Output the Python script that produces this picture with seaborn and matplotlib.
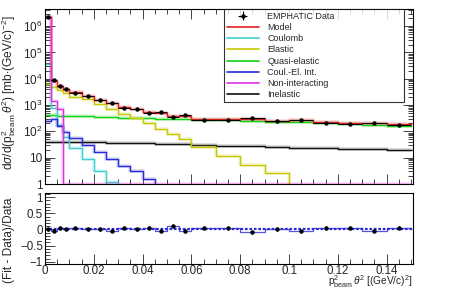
import numpy as np
import matplotlib
matplotlib.use('Agg')
import matplotlib.pyplot as plt
from matplotlib.lines import Line2D
from matplotlib.ticker import MultipleLocator, LogLocator, FuncFormatter, NullFormatter
import seaborn as sns

# binning and values
bin_edges = [0, 0.0025, 0.005, 0.0075, 0.01, 0.015, 0.02, 0.025, 0.03, 0.035, 0.04,
             0.045, 0.05, 0.055, 0.06, 0.07, 0.08, 0.09, 0.1, 0.11, 0.12, 0.13, 0.14, 0.15]

data_vals = [2.3e6, 8900, 5100, 3950, 3000, 2200, 1560, 1220, 780, 690, 505, 555,
             355, 420, 278, 276, 325, 252, 278, 210, 195, 213, 181]
model_vals = [2.3e6, 8500, 5400, 4000, 3100, 2200, 1560, 1170, 830, 690, 560, 520,
              400, 400, 295, 290, 295, 255, 262, 222, 205, 205, 190]
coulomb_vals = [3.5e4, 800, 170, 63, 24, 8.7, 3.1, 1.15, 0.3, 0.3, 0.3, 0.3,
                0.3, 0.3, 0.3, 0.3, 0.3, 0.3, 0.3, 0.3, 0.3, 0.3, 0.3]
elastic_vals = [6300, 4800, 3700, 2800, 2000, 1680, 1100, 690, 460, 315, 200, 120,
                80, 50, 26, 12, 5.3, 2.6, 0.3, 0.3, 0.3, 0.3, 0.3]
quasi_vals = [410, 405, 400, 395, 385, 370, 355, 345, 330, 320, 310, 300,
              295, 290, 280, 265, 250, 235, 220, 205, 195, 180, 165]
interf_vals = [250, 300, 165, 97, 58, 30, 16, 9, 5, 3.2, 1.55, 0.3,
               0.3, 0.3, 0.3, 0.3, 0.3, 0.3, 0.3, 0.3, 0.3, 0.3, 0.3]
nonint_vals = [2.3e6, 1480, 710, 1, 1, 1, 1, 1, 1, 1, 1, 1,
               1, 1, 1, 1, 1, 1, 1, 1, 1, 1, 1]
inelastic_vals = [40, 40, 40, 39, 39, 38, 38, 37, 37, 36, 35, 34,
                  33, 32, 31, 29, 27, 26, 24, 23, 22, 21, 20]
resid_vals = [0.0, -0.04, 0.06, 0.01, 0.03, 0.0, 0.0, -0.04, 0.06, 0.0, 0.06, -0.04,
              0.12, -0.05, 0.06, 0.05, -0.09, 0.01, -0.06, 0.06, 0.05, -0.04, 0.05]

data_rel_err = 0.06
resid_err = 0.05

series = [
    ('Model', model_vals, '#e02020'),
    ('Coulomb', coulomb_vals, '#40d0d0'),
    ('Elastic', elastic_vals, '#c8c800'),
    ('Quasi-elastic', quasi_vals, '#10d010'),
    ('Coul.-El. Int.', interf_vals, '#2a2ad8'),
    ('Non-interacting', nonint_vals, '#e030e0'),
    ('Inelastic', inelastic_vals, '#101010'),
]

sns.set_theme(style='ticks')
plt.rcParams['font.family'] = ['Liberation Sans', 'DejaVu Sans']
plt.rcParams['mathtext.fontset'] = 'custom'
plt.rcParams['mathtext.rm'] = 'Liberation Sans'
plt.rcParams['mathtext.it'] = 'Liberation Sans:italic'
plt.rcParams['axes.linewidth'] = 0.8
plt.rcParams['axes.edgecolor'] = 'black'

edges = np.array(bin_edges)
centers = (edges[:-1] + edges[1:]) / 2
half = (edges[1:] - edges[:-1]) / 2

fig = plt.figure(figsize=(4.49, 2.90), dpi=100)
ax = fig.add_axes([0.1002, 0.3655, 0.8196, 0.6035])
ax2 = fig.add_axes([0.1002, 0.0897, 0.8196, 0.2448])

# upper panel: components drawn as step histograms
draw_order = [3, 6, 2, 1, 4, 0, 5]
for i in draw_order:
    name, vals, col = series[i]
    sns.histplot(x=centers, weights=vals, bins=bin_edges, element='step', fill=False,
                 color=col, lw=2.6, alpha=0.18, ax=ax)
    sns.histplot(x=centers, weights=vals, bins=bin_edges, element='step', fill=False,
                 color=col, lw=1.0, ax=ax)

data_err = ax.errorbar(centers, data_vals, xerr=half, yerr=np.array(data_vals) * data_rel_err,
                       fmt='o', ms=2.2, color='black', lw=0.8, capsize=0, zorder=5)

ax.set_yscale('log')
ax.set_ylim(1, 4.5e6)
ax.set_xlim(0, 0.1508)
ax.set_ylabel('')
ax.set_xlabel('')
ax.xaxis.set_major_locator(MultipleLocator(0.02))
ax.xaxis.set_minor_locator(MultipleLocator(0.005))
ax.xaxis.set_major_formatter(NullFormatter())
ax.yaxis.set_major_locator(LogLocator(base=10, numticks=10))
ax.yaxis.set_minor_locator(LogLocator(base=10, subs=np.arange(2, 10), numticks=20))
ax.yaxis.set_minor_formatter(NullFormatter())


def log_fmt(v, pos):
    e = int(round(np.log10(v)))
    if e == 0:
        return '1'
    if e == 1:
        return '10'
    return r'$10^{%d}$' % e


ax.yaxis.set_major_formatter(FuncFormatter(log_fmt))
ax.tick_params(which='both', direction='in', top=True, right=True, labelsize=8.5, width=0.6, pad=2)
ax.tick_params(which='major', length=7)
ax.tick_params(which='minor', length=3.5)

handles = [data_err] + [Line2D([], [], color=c, lw=1.2) for _, _, c in series]
labels = ['EMPHATIC Data'] + [n for n, _, _ in series]
leg = ax.legend(handles, labels, loc='upper left', bbox_to_anchor=(0.486, 1.0, 0.49, 0.0),
                mode='expand', borderaxespad=0, fontsize=6.5, handlelength=3.6,
                handletextpad=0.9, labelspacing=0.25, frameon=True, fancybox=False,
                borderpad=0.3)
leg.get_frame().set_edgecolor('black')
leg.get_frame().set_linewidth(0.8)

# lower panel: relative residuals
sns.histplot(x=centers, weights=resid_vals, bins=bin_edges, element='step', fill=False,
             color='#2a2ad8', lw=0.9, alpha=0.8, ax=ax2)
ax2.axhline(0, color='#2a2ad8', lw=1.6, ls=(0, (1.2, 0.8)))
ax2.errorbar(centers, resid_vals, yerr=resid_err, fmt='o', ms=2.2, color='black',
             lw=0.8, capsize=0, zorder=5)
ax2.set_xlim(0, 0.1508)
ax2.set_ylim(-1.07, 1.13)
ax2.set_ylabel('')
ax2.set_xlabel('')
ax2.xaxis.set_major_locator(MultipleLocator(0.02))
ax2.xaxis.set_minor_locator(MultipleLocator(0.005))
ax2.yaxis.set_major_locator(MultipleLocator(0.5))
ax2.yaxis.set_minor_locator(MultipleLocator(0.1))
ax2.xaxis.set_major_formatter(FuncFormatter(lambda v, p: '0' if abs(v) < 1e-9 else ('%g' % v)))
ax2.yaxis.set_major_formatter(FuncFormatter(lambda v, p: '0' if abs(v) < 1e-9 else ('%g' % v).replace('-', '\u2212')))
ax2.tick_params(axis='x', which='both', pad=0.8)
ax2.tick_params(which='both', direction='in', labelsize=8.3, width=0.6)
ax2.tick_params(axis='y', which='both', pad=1.5)
ax2.tick_params(which='major', length=7)
ax2.tick_params(which='minor', length=3.5)

fig.text(0.02, 0.68, r'd$\sigma$/d(p$^{2}_{\mathrm{beam}}\,\theta^{2}$) [mb$\cdot$(GeV/c)$^{-2}$]',
         rotation=90, ha='center', va='center', fontsize=8.6)
fig.text(0.02, 0.17, '(Fit - Data)/Data', rotation=90, ha='center', va='center', fontsize=8.6)
fig.text(0.92, 0.0, r'p$^{2}_{\mathrm{beam}}\,\theta^{2}$ [(GeV/c)$^{2}$]',
         ha='right', va='bottom', fontsize=7.3)

fig.savefig('out.png', dpi=100)
